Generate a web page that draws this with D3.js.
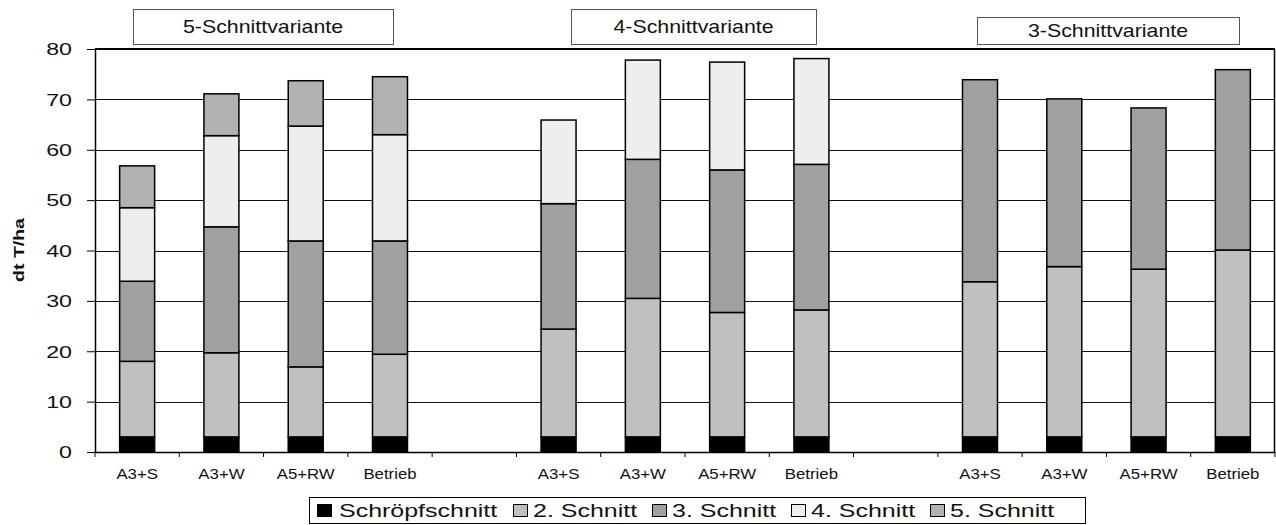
<!DOCTYPE html>
<html><head><meta charset="utf-8">
<script src="https://cdn.jsdelivr.net/npm/d3@7"></script>
<style>body{margin:0;background:#fff}svg text{font-family:"Liberation Sans",Arial,sans-serif;fill:#111}</style>
</head><body><svg id="c" width="1276" height="525"></svg>
<script>
// ---- data ----
const groups = ["5-Schnittvariante", "4-Schnittvariante", "3-Schnittvariante"];
const variants = ["A3+S", "A3+W", "A5+RW", "Betrieb"];
const seriesNames = ["Schröpfschnitt", "2. Schnitt", "3. Schnitt", "4. Schnitt", "5. Schnitt"];
const schroepf = [3, 3, 3, 3, 3, 3, 3, 3, 3, 3, 3, 3];
const schnitt2 = [15.0, 16.7, 13.9, 16.4, 21.4, 27.5, 24.7, 25.2, 30.8, 33.8, 33.3, 37.1];
const schnitt3 = [15.9, 25.0, 25.0, 22.5, 24.9, 27.6, 28.3, 28.9, 40.1, 33.3, 32.0, 35.8];
const schnitt4 = [14.6, 18.1, 22.8, 21.1, 16.6, 19.7, 21.4, 21.0, 0, 0, 0, 0];
const schnitt5 = [8.3, 8.3, 9.0, 11.5, 0, 0, 0, 0, 0, 0, 0, 0];
const yTicks = [0, 10, 20, 30, 40, 50, 60, 70, 80];
const yLabel = "dt T/ha";

// ---- styles ----
const colors = ["#000000", "#c0c0c0", "#a0a0a0", "#eeeeee", "#b2b2b2"];

const svg = d3.select("#c");
const pLeft = 95, pRight = 1275, pTop = 49, pBottom = 452;

// slots: 4 bars per group with one empty slot between groups
const slots = [];
const rows = [];
groups.forEach((g, gi) => {
  variants.forEach((v, vi) => {
    const i = gi * 4 + vi;
    const key = g + "|" + v;
    slots.push(key);
    rows.push({key, label: v, s0: schroepf[i], s1: schnitt2[i], s2: schnitt3[i], s3: schnitt4[i], s4: schnitt5[i]});
  });
  if (gi < groups.length - 1) slots.push("gap" + gi);
});

const x = d3.scaleBand().domain(slots).range([pLeft, pRight]).paddingInner(0).paddingOuter(0);
const y = d3.scaleLinear().domain([0, 80]).range([pBottom, pTop]);
const barW = x.bandwidth() * 0.415;

// gridlines
svg.append("g").selectAll("line").data(yTicks.filter(d => d > 0 && d < 80)).join("line")
  .attr("x1", pLeft).attr("x2", pRight)
  .attr("y1", d => Math.round(y(d)) + 0.5).attr("y2", d => Math.round(y(d)) + 0.5)
  .attr("stroke", "#111").attr("stroke-width", 1);

// plot frame top / right
svg.append("line").attr("x1", pLeft).attr("x2", pRight).attr("y1", y(80)).attr("y2", y(80))
  .attr("stroke", "#000").attr("stroke-width", 2);
svg.append("line").attr("x1", pRight - 0.5).attr("x2", pRight - 0.5).attr("y1", y(80)).attr("y2", y(0))
  .attr("stroke", "#000").attr("stroke-width", 1.5);

// stacked bars
const keys = ["s0", "s1", "s2", "s3", "s4"];
const stacked = d3.stack().keys(keys)(rows);
svg.append("g").selectAll("g").data(stacked).join("g")
  .attr("fill", (d, i) => colors[i])
  .selectAll("rect").data(d => d.filter(p => p[1] - p[0] > 0)).join("rect")
  .attr("x", d => x(d.data.key) + (x.bandwidth() - barW) / 2)
  .attr("width", barW)
  .attr("y", d => y(d[1]))
  .attr("height", d => y(d[0]) - y(d[1]))
  .attr("stroke", "#000").attr("stroke-width", 1.5);

// y axis
const yAxis = svg.append("g").attr("transform", `translate(${pLeft},0)`)
  .call(d3.axisLeft(y).tickValues(yTicks).tickSize(8).tickSizeOuter(0));
yAxis.select(".domain").attr("stroke", "#000").attr("stroke-width", 1.5);
yAxis.selectAll(".tick line").attr("stroke", "#000");
yAxis.selectAll("text").attr("x", 0).attr("dy", "0.36em")
  .attr("transform", `translate(-23,0) scale(1.45,1)`)
  .style("font-size", "16px");

// x axis (labels at band centers)
const xAxis = svg.append("g").attr("transform", `translate(0,${pBottom})`)
  .call(d3.axisBottom(x).tickSize(0).tickSizeOuter(0)
    .tickFormat(k => { const r = rows.find(r => r.key === k); return r ? r.label : ""; }));
xAxis.select(".domain").attr("stroke", "#000").attr("stroke-width", 1.5);
xAxis.selectAll("text").attr("y", 0).attr("dy", 0)
  .attr("transform", `translate(0,27) scale(1.2,1)`)
  .style("font-size", "14px");
// boundary tick marks
svg.append("g").selectAll("line").data(slots.map(s => x(s)).concat([pRight])).join("line")
  .attr("x1", d => d).attr("x2", d => d).attr("y1", pBottom).attr("y2", pBottom + 5)
  .attr("stroke", "#000").attr("stroke-width", 1);

// y label
svg.append("text").attr("transform", `translate(24,250) rotate(-90) scale(1.3,1)`)
  .attr("text-anchor", "middle").style("font-size", "15px").style("font-weight", "bold").text(yLabel);

// group title boxes
const boxes = [
  {x: 133, y: 9, w: 260, h: 35},
  {x: 571, y: 9, w: 245, h: 35},
  {x: 977, y: 17, w: 262, h: 27}
];
groups.forEach((g, i) => {
  const b = boxes[i];
  svg.append("rect").attr("x", b.x + 0.5).attr("y", b.y + 0.5).attr("width", b.w).attr("height", b.h)
    .attr("fill", "#fff").attr("stroke", "#555").attr("stroke-width", 1);
  svg.append("text").attr("transform", `translate(${b.x + b.w / 2},${b.y + b.h / 2 + 6.5}) scale(1.22,1)`)
    .attr("text-anchor", "middle").style("font-size", "17.5px").text(g);
});

// legend
const lg = svg.append("g");
lg.append("rect").attr("x", 309.5).attr("y", 497.5).attr("width", 776).attr("height", 26)
  .attr("fill", "#fff").attr("stroke", "#000").attr("stroke-width", 1);
const swX = [317, 513, 652, 791, 930];
const txX = [339, 533, 672, 811, 950];
seriesNames.forEach((n, i) => {
  lg.append("rect").attr("x", swX[i] + 0.5).attr("y", 504.5).attr("width", 14).attr("height", 12)
    .attr("fill", colors[i]).attr("stroke", "#000").attr("stroke-width", 1);
  lg.append("text").attr("transform", `translate(${txX[i]},517) scale(1.35,1)`)
    .style("font-size", "18.5px").text(n);
});
</script></body></html>
